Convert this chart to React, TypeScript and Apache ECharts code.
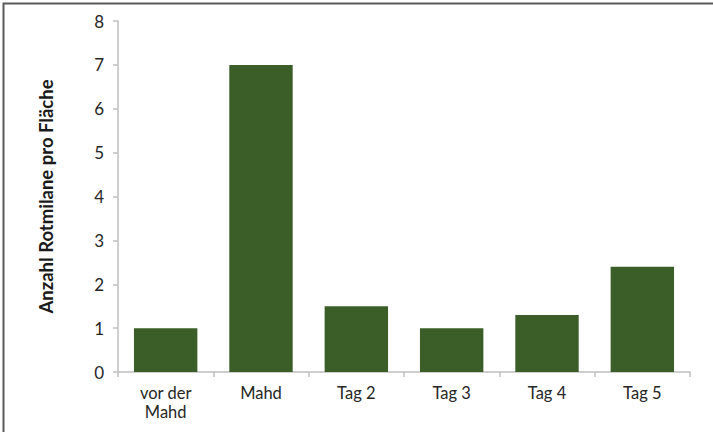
import React, { useEffect, useRef } from "react";
import * as echarts from "echarts";

const categories = ["vor der\nMahd", "Mahd", "Tag 2", "Tag 3", "Tag 4", "Tag 5"];
const values = [1, 7, 1.5, 1, 1.3, 2.4];
const yAxisName = "Anzahl Rotmilane pro Fläche";

export default function App() {
  const ref = useRef<HTMLDivElement>(null);
  useEffect(() => {
    if (!ref.current) return;
    const chart = echarts.init(ref.current, null, { renderer: "svg" });
    const font = "Lato, 'Open Sans', sans-serif";
    chart.setOption({
      animation: false,
      backgroundColor: "#ffffff",
      graphic: [
        {
          type: "rect",
          shape: { x: 3.5, y: 3.5, width: 740, height: 460 },
          style: { fill: "none", stroke: "#5a5a5a", lineWidth: 2 },
          silent: true,
        },
      ],
      grid: { left: 118, right: 23, top: 21, bottom: 60 },
      xAxis: {
        type: "category",
        data: categories,
        axisLine: { lineStyle: { color: "#bfbfbf", width: 1.5 } },
        axisTick: { show: true, length: 5, lineStyle: { color: "#bfbfbf", width: 1.5 } },
        axisLabel: {
          color: "#262626",
          fontFamily: font,
          fontSize: 16.5,
          lineHeight: 19,
          margin: 11,
        },
      },
      yAxis: {
        type: "value",
        min: 0,
        max: 8,
        interval: 1,
        name: yAxisName,
        nameLocation: "middle",
        nameGap: 63,
        nameTextStyle: {
          color: "#1a1a1a",
          fontFamily: font,
          fontSize: 18.5,
          fontWeight: "bold",
        },
        axisLine: { show: true, lineStyle: { color: "#bfbfbf", width: 1.5 } },
        axisTick: { show: true, length: 5, lineStyle: { color: "#bfbfbf", width: 1.5 } },
        splitLine: { show: false },
        axisLabel: {
          color: "#262626",
          fontFamily: font,
          fontSize: 17,
          margin: 14,
        },
      },
      series: [
        {
          type: "bar",
          data: values,
          barCategoryGap: "33.5%",
          itemStyle: { color: "#3b5e29" },
        },
      ],
    });
    return () => chart.dispose();
  }, []);
  return (
    <div
      ref={ref}
      style={{ position: "fixed", left: 0, top: 0, width: 713, height: 432 }}
    />
  );
}
